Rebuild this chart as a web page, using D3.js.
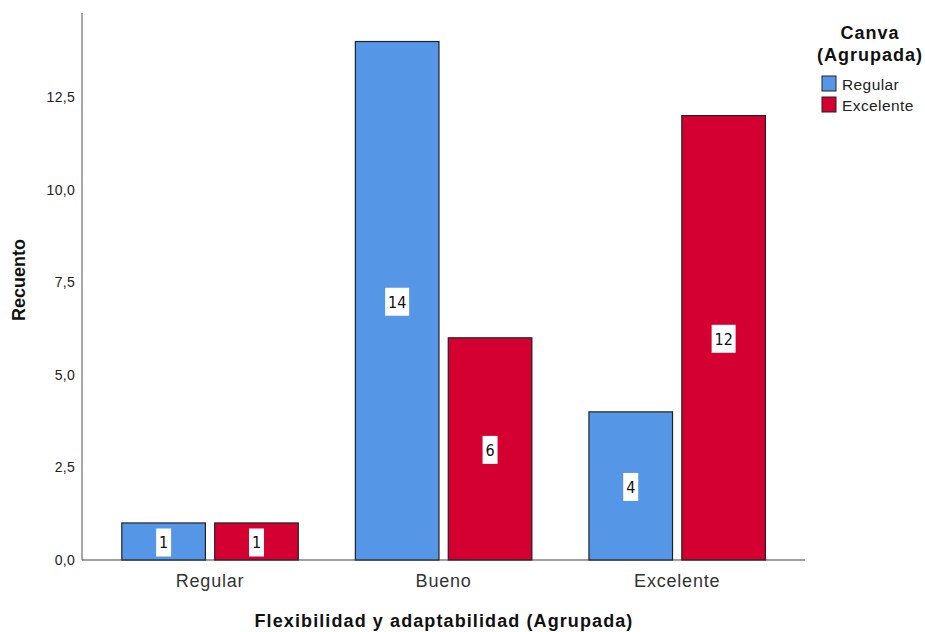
<!DOCTYPE html>
<html>
<head>
<meta charset="utf-8">
<script src="https://cdn.jsdelivr.net/npm/d3@7"></script>
<style>
  body { margin: 0; background: #fff; }
  svg { font-family: "Liberation Sans", Arial, sans-serif; }
</style>
</head>
<body>
<div id="chart"></div>
<script>
// data
const categories = ["Regular", "Bueno", "Excelente"];
const seriesNames = ["Regular", "Excelente"];
const regularValues = [1, 14, 4];
const excelenteValues = [1, 6, 12];
const yTicks = [0, 2.5, 5, 7.5, 10, 12.5];

const width = 925;
const height = 632;
const colors = { Regular: "#5596e6", Excelente: "#d50032" };

const rows = categories.map((c, i) => ({
  cat: c,
  values: [
    { key: "Regular", v: regularValues[i] },
    { key: "Excelente", v: excelenteValues[i] }
  ]
}));

const svg = d3.select("#chart").append("svg")
  .attr("width", width)
  .attr("height", height);

// scales
const x = d3.scaleBand().domain(categories).range([93.3, 794]).padding(0);
const xSub = d3.scaleBand().domain(seriesNames).range([28.5, 205]).paddingInner(0.1);
const y = d3.scaleLinear().domain([0, 14.77]).range([560, 13]);

// axes
svg.append("line")
  .attr("x1", 82).attr("x2", 82)
  .attr("y1", y.range()[1]).attr("y2", y(0))
  .attr("stroke", "#8a8a8a").attr("stroke-width", 1.5);

svg.append("line")
  .attr("x1", 82).attr("x2", 805)
  .attr("y1", y(0)).attr("y2", y(0))
  .attr("stroke", "#444").attr("stroke-width", 1.2);

svg.selectAll(".ytick")
  .data(yTicks)
  .enter().append("text")
  .attr("class", "ytick")
  .attr("x", 75)
  .attr("y", d => y(d) + 5)
  .attr("text-anchor", "end")
  .style("font-size", "14px")
  .style("letter-spacing", "0.3px")
  .style("fill", "#222")
  .text(d => d.toFixed(1).replace(".", ","));

svg.selectAll(".xlab")
  .data(categories)
  .enter().append("text")
  .attr("class", "xlab")
  .attr("x", d => x(d) + x.bandwidth() / 2)
  .attr("y", 587)
  .attr("text-anchor", "middle")
  .style("font-size", "18px")
  .style("letter-spacing", "0.8px")
  .style("fill", "#333")
  .text(d => d);

// bars
const groups = svg.selectAll(".grp")
  .data(rows)
  .enter().append("g")
  .attr("class", "grp")
  .attr("transform", d => `translate(${x(d.cat)},0)`);

groups.selectAll("rect")
  .data(d => d.values)
  .enter().append("rect")
  .attr("x", d => xSub(d.key))
  .attr("y", d => y(d.v))
  .attr("width", xSub.bandwidth())
  .attr("height", d => y(0) - y(d.v))
  .attr("fill", d => colors[d.key])
  .attr("stroke", "#222")
  .attr("stroke-width", 1.2);

// value labels
const labels = groups.selectAll(".lab")
  .data(d => d.values)
  .enter().append("g")
  .attr("class", "lab")
  .attr("transform", d => `translate(${xSub(d.key) + xSub.bandwidth() / 2},${(y(d.v) + y(0)) / 2 + 1})`);

labels.append("rect")
  .attr("x", d => -(String(d.v).length * 9 + 6) / 2)
  .attr("y", -14)
  .attr("width", d => String(d.v).length * 9 + 6)
  .attr("height", 28)
  .attr("fill", "#fff");

labels.append("text")
  .attr("text-anchor", "middle")
  .attr("y", 6)
  .style("font-size", "16px")
  .style("font-family", "'DejaVu Sans Condensed', 'Liberation Sans Narrow', sans-serif")
  .style("fill", "#111")
  .text(d => d.v);

// axis titles
svg.append("text")
  .attr("x", 444)
  .attr("y", 627)
  .attr("text-anchor", "middle")
  .style("font-size", "18px")
  .style("letter-spacing", "1.1px")
  .style("font-weight", "bold")
  .style("fill", "#111")
  .text("Flexibilidad y adaptabilidad (Agrupada)");

svg.append("text")
  .attr("transform", "translate(25,280) rotate(-90)")
  .attr("text-anchor", "middle")
  .style("font-size", "18px")
  .style("font-weight", "bold")
  .style("fill", "#111")
  .text("Recuento");

// legend
svg.append("text")
  .attr("x", 870).attr("y", 39)
  .attr("text-anchor", "middle")
  .style("font-size", "18px").style("letter-spacing", "1px")
  .style("font-weight", "bold").style("fill", "#111")
  .text("Canva");
svg.append("text")
  .attr("x", 870).attr("y", 61)
  .attr("text-anchor", "middle")
  .style("font-size", "18px").style("letter-spacing", "1px")
  .style("font-weight", "bold").style("fill", "#111")
  .text("(Agrupada)");

const leg = svg.selectAll(".leg")
  .data(seriesNames)
  .enter().append("g")
  .attr("class", "leg")
  .attr("transform", (d, i) => `translate(822,${76 + i * 21})`);

leg.append("rect")
  .attr("width", 14).attr("height", 15)
  .attr("fill", d => colors[d])
  .attr("stroke", "#222").attr("stroke-width", 1);

leg.append("text")
  .attr("x", 20).attr("y", 14)
  .style("font-size", "15.5px").style("letter-spacing", "0.4px")
  .style("fill", "#222")
  .text(d => d);
</script>
</body>
</html>
